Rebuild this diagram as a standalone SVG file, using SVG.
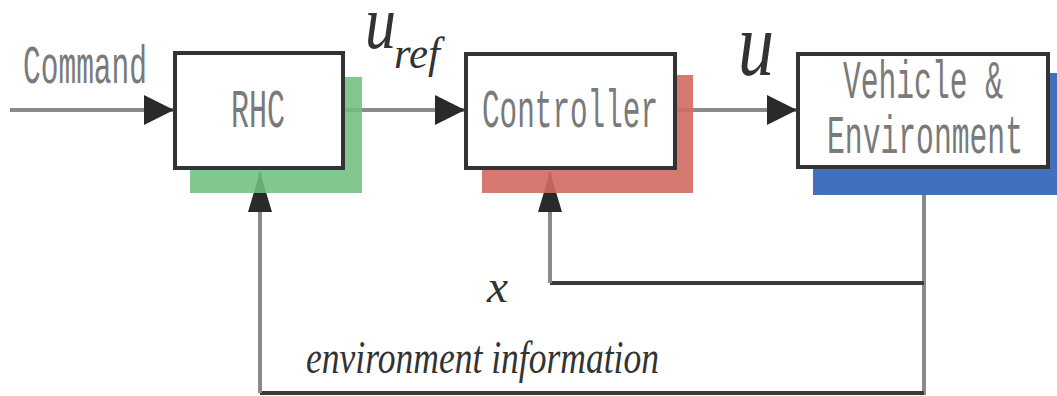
<svg xmlns="http://www.w3.org/2000/svg" width="1057" height="396" viewBox="0 0 1057 396">
<style>
.box{fill:#fff;stroke:#333;stroke-width:4}
.lbl{font-family:"Liberation Mono",monospace;font-size:54px;fill:#7a7a7a}
.math{font-family:"Liberation Serif",serif;font-style:italic;fill:#333}
.ln{fill:none;stroke:#8a8a8a;stroke-width:4}
.dk{fill:none;stroke:#3a3a3a;stroke-width:4}
</style>
<defs>
<marker id="ah" markerUnits="userSpaceOnUse" markerWidth="30" markerHeight="30" refX="30" refY="15" orient="auto" viewBox="0 0 30 30">
<path d="M0,0 L30,15 L0,30 z" fill="#2a2a2a"/>
</marker>
<marker id="av" markerUnits="userSpaceOnUse" markerWidth="40" markerHeight="24" refX="40" refY="12" orient="auto" viewBox="0 0 40 24">
<path d="M0,0 L40,12 L0,24 z" fill="#2a2a2a"/>
</marker>
</defs>
<rect width="1057" height="396" fill="#fff"/>
<g id="connectors">
<line class="ln" x1="10" y1="110" x2="174" y2="110" marker-end="url(#ah)"/>
<line class="ln" x1="343" y1="110" x2="465" y2="110" marker-end="url(#ah)"/>
<line class="ln" x1="675" y1="110" x2="797" y2="110" marker-end="url(#ah)"/>
<line class="ln" x1="924" y1="167" x2="924" y2="395"/>
<line class="dk" x1="924" y1="283" x2="550" y2="283"/>
<line class="ln" x1="550" y1="283" x2="550" y2="172" marker-end="url(#av)"/>
<line class="dk" x1="924" y1="393" x2="260" y2="393"/>
<line class="ln" x1="260" y1="393" x2="260" y2="172" marker-end="url(#av)"/>
</g>
<g id="rhc">
<rect x="190" y="77" width="172" height="116" fill="#6fbf80" opacity="0.88"/>
<rect class="box" x="175" y="53" width="168" height="115"/>
<text class="lbl" x="258" y="127" text-anchor="middle" textLength="54" lengthAdjust="spacingAndGlyphs">RHC</text>
</g>
<g id="controller">
<rect x="482" y="75" width="211" height="118" fill="#d06a62" opacity="0.9"/>
<rect class="box" x="466" y="54" width="209" height="114"/>
<text class="lbl" x="570" y="127" text-anchor="middle" textLength="176" lengthAdjust="spacingAndGlyphs">Controller</text>
</g>
<g id="vehicle">
<rect x="813" y="73" width="250" height="122" fill="#4370bd"/>
<rect class="box" x="798" y="54" width="250" height="113"/>
<text class="lbl" x="923" y="98" text-anchor="middle" textLength="160" lengthAdjust="spacingAndGlyphs">Vehicle &amp;</text>
<text class="lbl" x="925" y="153" text-anchor="middle" textLength="196" lengthAdjust="spacingAndGlyphs">Environment</text>
</g>
<g id="labels">
<text class="lbl" x="23" y="83" textLength="124" lengthAdjust="spacingAndGlyphs">Command</text>
<text class="math" x="365" y="48" font-size="76" textLength="31" lengthAdjust="spacingAndGlyphs">u</text>
<text class="math" x="394" y="68" font-size="44" fill="#666" textLength="46" lengthAdjust="spacingAndGlyphs">ref</text>
<text class="math" x="738" y="75" font-size="92" textLength="36" lengthAdjust="spacingAndGlyphs">u</text>
<text class="math" x="487" y="302" font-size="46" fill="#666" textLength="21" lengthAdjust="spacingAndGlyphs">x</text>
<text class="math" x="306" y="373" font-size="46" fill="#555" textLength="353" lengthAdjust="spacingAndGlyphs">environment information</text>
</g>
</svg>
